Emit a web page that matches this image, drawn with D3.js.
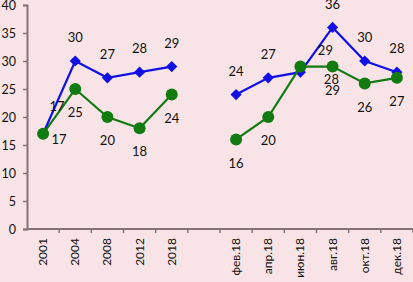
<!DOCTYPE html>
<html><head><meta charset="utf-8">
<script src="https://cdn.jsdelivr.net/npm/d3@7"></script>
<style>
html,body{margin:0;padding:0;background:#f8e4e6;}
svg{display:block;}
text{font-family:Lato,"Open Sans",sans-serif;fill:#111;}
</style></head>
<body><svg id="c" width="413" height="282"></svg>
<script>
const categories = ["2001","2004","2008","2012","2018","","фев.18","апр.18","июн.18","авг.18","окт.18","дек.18"];
const blueValues  = [17,30,27,28,29,null,24,27,28,36,30,28];
const greenValues = [17,25,20,18,24,null,16,20,29,29,26,27];
const yTicks = [0,5,10,15,20,25,30,35,40];

// label placement tweaks (style only)
const blueLabelOffset  = {0:[14,-26], 8:[31,9]};
const greenLabelOffset = {0:[16,7], 8:[25,-15]};

const svg = d3.select("#c");
const x = d3.scaleBand().domain(d3.range(categories.length)).range([27, 413]).padding(0);
const cx = i => x(i) + x.bandwidth()/2;
const y = d3.scaleLinear().domain([0,40]).range([229,5]);
const axisColor = "#857474";

// y axis
const ya = svg.append("g").attr("transform","translate(27,0)")
  .call(d3.axisLeft(y).tickValues(yTicks).tickSize(4).tickPadding(7));
ya.select(".domain").attr("stroke",axisColor).attr("stroke-width",2);
ya.selectAll(".tick line").attr("stroke",axisColor).attr("stroke-width",1.5);
ya.selectAll(".tick text").attr("font-size",12.5).attr("font-family","Lato, sans-serif").attr("fill","#111");

// x axis line
svg.append("line").attr("x1",27).attr("x2",413).attr("y1",y(0)).attr("y2",y(0))
  .attr("stroke",axisColor).attr("stroke-width",2);
// boundary ticks
svg.selectAll(".xt").data(d3.range(1, categories.length+1)).join("line")
  .attr("x1",i=>x.step()*i+27).attr("x2",i=>x.step()*i+27)
  .attr("y1",y(0)).attr("y2",y(0)+4).attr("stroke",axisColor).attr("stroke-width",1.5);
// x labels
svg.selectAll(".xl").data(categories).join("text")
  .attr("transform",(d,i)=>`translate(${cx(i)+4},238) rotate(-90)`)
  .attr("text-anchor","end").attr("font-size",12).text(d=>d);

function drawSeries(vals, color, isBlue){
  const segs = [[0,5],[6,12]];
  const line = d3.line().x(d=>cx(d.i)).y(d=>y(d.v));
  const pts = vals.map((v,i)=>({v,i})).filter(d=>d.v!=null);
  segs.forEach(([a,b])=>{
    svg.append("path").datum(pts.filter(d=>d.i>=a&&d.i<b))
      .attr("d",line).attr("fill","none").attr("stroke",color).attr("stroke-width",2.2);
  });
  if(isBlue){
    svg.selectAll(".bm").data(pts).join("path").attr("class","bm")
      .attr("d",d3.symbol().type(d3.symbolDiamond2).size(80))
      .attr("transform",d=>`translate(${cx(d.i)},${y(d.v)})`).attr("fill",color);
  } else {
    svg.selectAll(".gm").data(pts).join("circle").attr("class","gm")
      .attr("cx",d=>cx(d.i)).attr("cy",d=>y(d.v)).attr("r",6).attr("fill",color);
  }
  return pts;
}
const bp = drawSeries(blueValues, "#1010e6", true);
const gp = drawSeries(greenValues, "#117a11", false);

function labels(pts, def, adj){
  svg.append("g").selectAll("text").data(pts).join("text")
    .attr("x",d=>cx(d.i)+(adj[d.i]?adj[d.i][0]:0))
    .attr("y",d=>y(d.v)+(adj[d.i]?adj[d.i][1]:def))
    .attr("text-anchor","middle").attr("dominant-baseline","middle")
    .attr("font-size",13).text(d=>d.v);
}
labels(bp, -22, blueLabelOffset);
labels(gp, 25, greenLabelOffset);
</script></body></html>
